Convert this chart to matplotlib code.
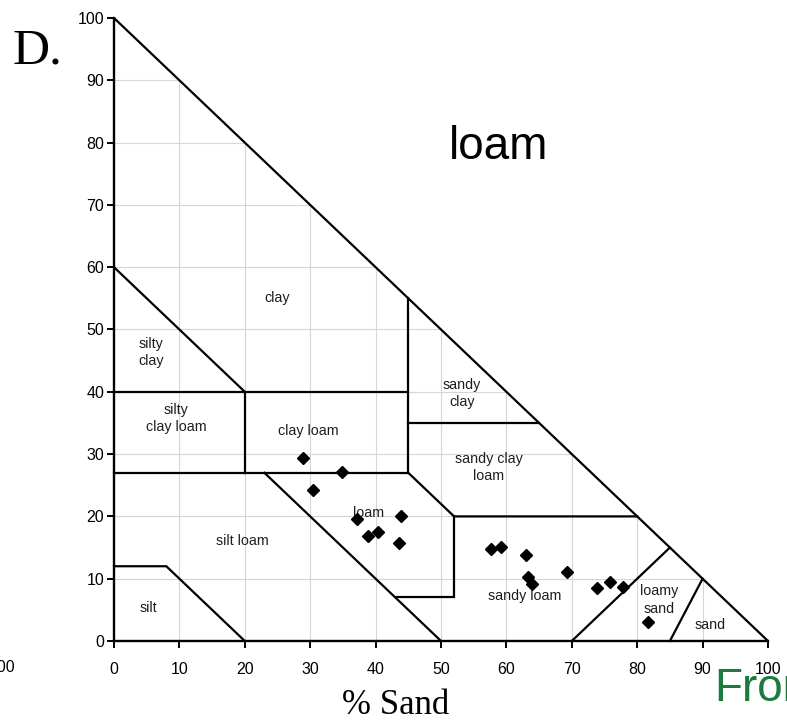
import matplotlib
matplotlib.use("Agg")
import matplotlib.pyplot as plt

# Sample composition (percent sand, percent clay)
sand = [28.9, 34.9, 30.5, 37.2, 43.9, 40.3, 38.9, 43.6,
        57.6, 59.1, 63.0, 63.3, 63.9, 69.2, 73.9, 75.8, 77.8, 81.6]
clay = [29.3, 27.2, 24.2, 19.6, 20.1, 17.5, 16.8, 15.7,
        14.7, 15.1, 13.8, 10.3, 9.1, 11.1, 8.5, 9.4, 8.7, 3.0]

ticks = [0, 10, 20, 30, 40, 50, 60, 70, 80, 90, 100]

# USDA texture-class boundaries as (sand, clay) polylines
boundaries = [
    [(0, 60), (20, 40)],
    [(0, 40), (45, 40)],
    [(45, 27), (45, 55)],
    [(20, 27), (20, 40)],
    [(0, 27), (45, 27)],
    [(45, 35), (65, 35)],
    [(45, 27), (52, 20), (80, 20)],
    [(52, 20), (52, 7), (43, 7)],
    [(23, 27), (50, 0)],
    [(0, 12), (8, 12), (20, 0)],
    [(70, 0), (85, 15)],
    [(85, 0), (90, 10)],
]

# Class names and label anchors (sand, clay)
class_names = ["clay", "silty\nclay", "silty\nclay loam", "clay loam",
               "sandy\nclay", "sandy clay\nloam", "loam", "silt loam",
               "silt", "sandy loam", "loamy\nsand", "sand"]
label_sand = [25, 5.7, 9.5, 29.7, 53.2, 57.3, 39.0, 19.6, 5.2, 62.8, 83.3, 91.1]
label_clay = [55.1, 46.3, 35.7, 33.7, 39.7, 27.9, 20.5, 16.0, 5.3, 7.2, 6.6, 2.6]

W, H = 787, 723
fig = plt.figure(figsize=(W / 100, H / 100), dpi=100)
ax = fig.add_axes([114 / W, 1 - 641 / H, (768 - 114) / W, (641 - 18) / H])
ax.set_xlim(0, 100)
ax.set_ylim(0, 100)

# grid confined to the triangle
for t in ticks[1:-1]:
    ax.plot([t, t], [0, 100 - t], color="#d6d6d6", lw=0.8, zorder=1)
    ax.plot([0, 100 - t], [t, t], color="#d6d6d6", lw=0.8, zorder=1)

# outer triangle
ax.plot([0, 100], [100, 0], color="black", lw=1.6, zorder=3, clip_on=False,
        solid_capstyle="butt")

for seg in boundaries:
    xs, ys = zip(*seg)
    ax.plot(xs, ys, color="black", lw=1.6, zorder=3, clip_on=False,
            solid_joinstyle="miter")

for name, xs, ys in zip(class_names, label_sand, label_clay):
    ax.text(xs, ys, name, ha="center", va="center", fontsize=10.3,
            family="Liberation Sans", color="#1e1e1e", zorder=4,
            linespacing=1.3)

ax.plot(sand, clay, linestyle="none", marker="D", markersize=5.8,
        color="black", zorder=5, clip_on=False)

for side in ("top", "right"):
    ax.spines[side].set_visible(False)
for side in ("left", "bottom"):
    ax.spines[side].set_linewidth(1.7)
    ax.spines[side].set_zorder(3)

ax.set_xticks(ticks)
ax.set_yticks(ticks)
ax.tick_params(axis="both", direction="out", length=5, width=1.4,
               labelsize=11.5, color="black")
ax.tick_params(axis="x", pad=10)
ax.tick_params(axis="y", pad=2)
for lab in ax.get_xticklabels() + ax.get_yticklabels():
    lab.set_family("Liberation Sans")

fig.text(396 / W, 1 - 714 / H, "% Sand", ha="center", va="baseline",
         fontsize=25, family="Liberation Serif")
fig.text(13 / W, 1 - 63 / H, "D.", ha="left", va="baseline",
         fontsize=37, family="Liberation Serif")
fig.text(449 / W, 1 - 159 / H, "loam", ha="left", va="baseline",
         fontsize=33, family="Liberation Sans")
fig.text(714 / W, 1 - 701 / H, "From", ha="left", va="baseline",
         fontsize=33, family="Liberation Sans", color="#1c7a3c")
fig.text(15 / W, 1 - 668 / H, "100", ha="right", va="center",
         fontsize=11.5, family="Liberation Sans")

fig.savefig("out.png", dpi=100)
